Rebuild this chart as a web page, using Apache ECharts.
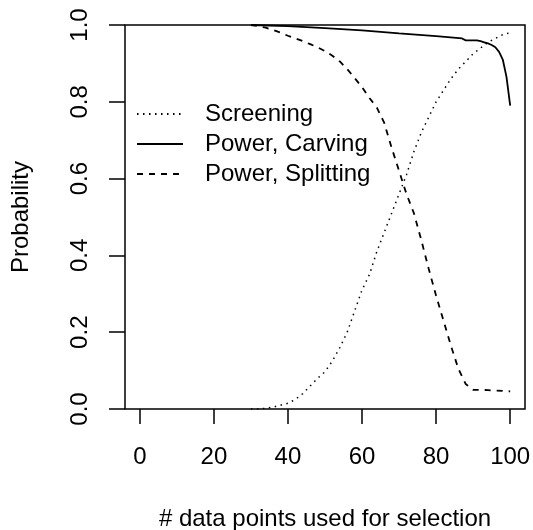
<!DOCTYPE html>
<html>
<head>
<meta charset="utf-8">
<script src="https://cdn.jsdelivr.net/npm/echarts@6/dist/echarts.min.js"></script>
<style>
  html, body { margin: 0; padding: 0; background: #fff; }
  #chart { width: 533px; height: 530px; }
</style>
</head>
<body>
<div id="chart"></div>
<script>
  // 数据：横轴为使用的数据点个数
  var xSteps = [30, 32, 34, 36, 38, 40, 42, 44, 46, 48, 50, 52, 54, 56, 58, 60, 62, 64,
                66, 68, 70, 72, 74, 76, 78, 80, 82, 84, 86, 88, 90, 92, 94, 96, 98, 100]
  var screening = [0.0, 0.0, 0.002, 0.005, 0.01, 0.015, 0.025, 0.04, 0.06, 0.08, 0.097, 0.125,
                   0.16, 0.2, 0.255, 0.31, 0.35, 0.41, 0.46, 0.51, 0.56, 0.61, 0.67, 0.72,
                   0.76, 0.8, 0.83, 0.86, 0.885, 0.905, 0.925, 0.94, 0.955, 0.965, 0.975, 0.98]
  var splitting = [1.0, 0.997, 0.993, 0.987, 0.98, 0.972, 0.965, 0.958, 0.95, 0.942, 0.932, 0.92,
                   0.905, 0.885, 0.862, 0.838, 0.81, 0.785, 0.745, 0.68, 0.62, 0.56, 0.51, 0.44,
                   0.365, 0.295, 0.23, 0.165, 0.105, 0.065, 0.05, 0.05, 0.049, 0.048, 0.047, 0.046]
  var carvingX = [30, 40, 50, 60, 70, 80, 87, 88, 91, 92, 93, 94, 95, 96, 97, 98, 99, 100]
  var carving = [1.0, 0.997, 0.992, 0.986, 0.978, 0.971, 0.965, 0.96, 0.96, 0.958, 0.955, 0.952,
                 0.948, 0.942, 0.93, 0.91, 0.865, 0.79]
  var xTicks = [0, 20, 40, 60, 80, 100]

  function pairs(xs, ys) {
    return xs.map(function (x, i) { return [x, ys[i]] })
  }

  var font = '"Liberation Sans", Arial, Helvetica, sans-serif'
  var myChart = echarts.init(document.getElementById('chart'))
  myChart.setOption({
    backgroundColor: '#fff',
    animation: false,
    grid: {
      left: 125, right: 8, top: 25, bottom: 121,
      outerBoundsMode: 'none',
      containLabel: false,
      show: true, borderColor: '#000', borderWidth: 1.5, backgroundColor: 'transparent'
    },
    legend: {
      orient: 'vertical',
      left: 136,
      top: 102,
      padding: 0,
      itemWidth: 46,
      itemHeight: 14,
      itemGap: 6,
      itemStyle: { opacity: 0 },
      textStyle: { fontFamily: font, fontSize: 24, color: '#000', padding: [0, 0, 0, 17] },
      data: ['Screening', 'Power, Carving', 'Power, Splitting']
    },
    xAxis: {
      type: 'value',
      min: -4,
      max: 104,
      name: '# data points used for selection',
      nameLocation: 'middle',
      nameGap: 98,
      nameTextStyle: { fontFamily: font, fontSize: 24, color: '#000', verticalAlign: 'top' },
      axisLine: { show: false, onZero: false },
      splitLine: { show: false },
      axisTick: {
        show: true, length: 15, customValues: xTicks,
        lineStyle: { color: '#000', width: 1.5 }
      },
      axisLabel: {
        customValues: xTicks, margin: 36,
        fontFamily: font, fontSize: 24, color: '#000'
      }
    },
    yAxis: {
      type: 'value',
      min: 0,
      max: 1,
      interval: 0.2,
      name: 'Probability',
      nameLocation: 'middle',
      nameGap: 92,
      nameTextStyle: { fontFamily: font, fontSize: 24, color: '#000' },
      axisLine: { show: false, onZero: false },
      splitLine: { show: false },
      axisTick: { show: true, length: 16, lineStyle: { color: '#000', width: 1.5 } },
      axisLabel: {
        rotate: 90, margin: 33,
        fontFamily: font, fontSize: 24, color: '#000',
        formatter: function (v) { return v.toFixed(1) }
      }
    },
    series: [{
      name: 'Screening',
      type: 'line',
      symbol: 'none',
      data: pairs(xSteps, screening),
      lineStyle: { color: '#000', width: 1.5, type: [1.5, 4.5] },
      itemStyle: { color: '#000' }
    }, {
      name: 'Power, Carving',
      type: 'line',
      symbol: 'none',
      data: pairs(carvingX, carving),
      lineStyle: { color: '#000', width: 1.8, type: 'solid' },
      itemStyle: { color: '#000' }
    }, {
      name: 'Power, Splitting',
      type: 'line',
      symbol: 'none',
      data: pairs(xSteps, splitting),
      lineStyle: { color: '#000', width: 1.8, type: [6, 6] },
      itemStyle: { color: '#000' }
    }]
  })
</script>
</body>
</html>
